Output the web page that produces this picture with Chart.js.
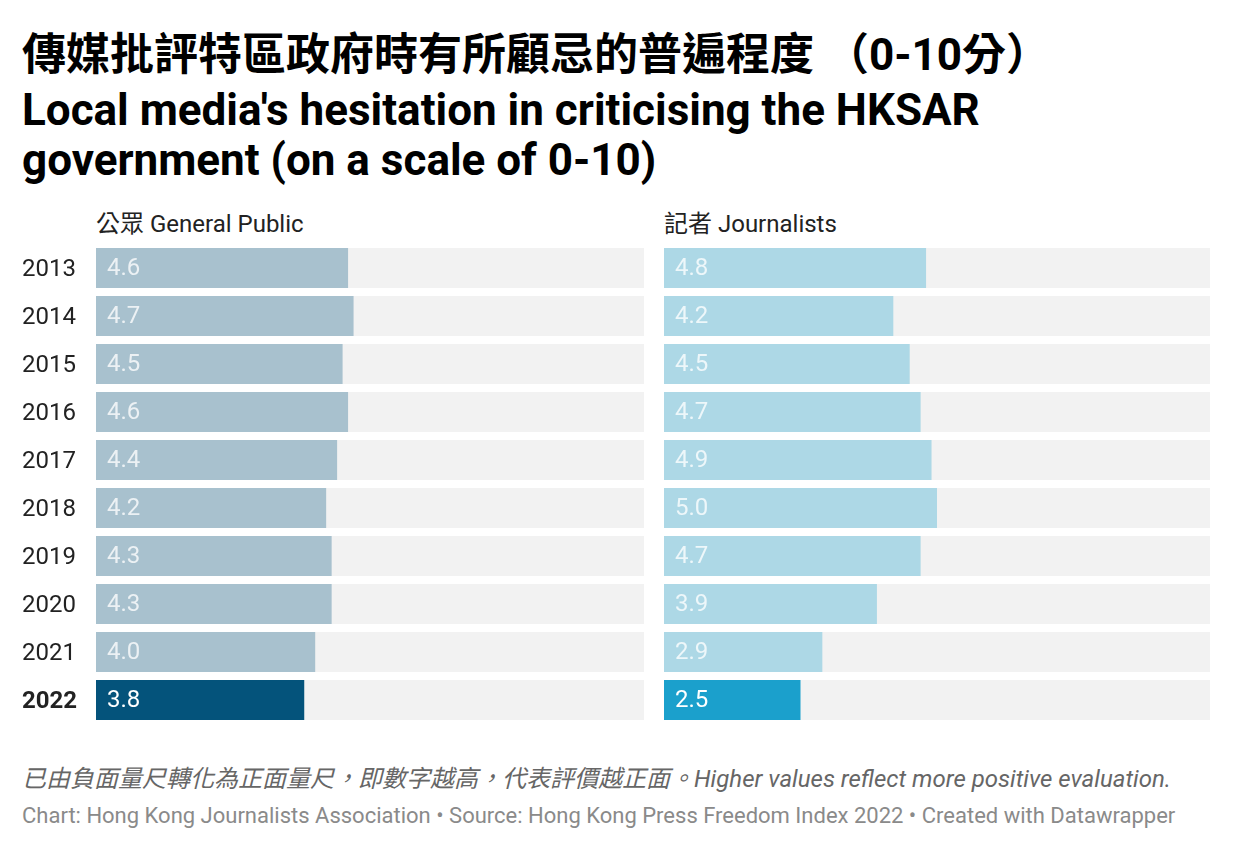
<!DOCTYPE html>
<html><head><meta charset="utf-8">
<script src="https://cdn.jsdelivr.net/npm/chart.js@4/dist/chart.umd.min.js"></script>
<style>
html,body{margin:0;padding:0;background:#fff;width:1240px;height:850px;overflow:hidden;font-family:Roboto,"Noto Sans CJK TC",sans-serif;}
.t{position:absolute;white-space:nowrap;}
#title1{left:22px;top:30px;font-size:44px;font-weight:700;color:#000;line-height:50px;}
#title2{left:22px;top:85px;font-size:44px;font-weight:700;color:#000;line-height:50px;}
#h1{left:96px;top:212px;font-size:24px;line-height:24px;color:#222;}
#h2{left:664px;top:212px;font-size:24px;line-height:24px;color:#222;}
#note{left:22px;top:767px;font-size:24px;line-height:24px;color:#666;font-style:italic;}
#src{left:22px;top:805px;font-size:22px;line-height:22px;color:#8a8a8a;}
canvas{position:absolute;}
#c1wrap{position:absolute;left:22px;top:244px;width:622px;height:480px;}
#c2wrap{position:absolute;left:664px;top:244px;width:546px;height:480px;}
</style></head>
<body>
<div class="t" id="title1">傳媒批評特區政府時有所顧忌的普遍程度 （0-10分）</div>
<div class="t" id="title2">Local media's hesitation in criticising the HKSAR<br>government (on a scale of 0-10)</div>
<div class="t" id="h1">公眾 General Public</div>
<div class="t" id="h2">記者 Journalists</div>
<div id="c1wrap"><canvas id="c1"></canvas></div>
<div id="c2wrap"><canvas id="c2"></canvas></div>
<div class="t" id="note">已由負面量尺轉化為正面量尺，即數字越高，代表評價越正面。Higher values reflect more positive evaluation.</div>
<div class="t" id="src">Chart: Hong Kong Journalists Association • Source: Hong Kong Press Freedom Index 2022 • Created with Datawrapper</div>
<script>
const years = ["2013","2014","2015","2016","2017","2018","2019","2020","2021","2022"];
const publicValues = [4.6,4.7,4.5,4.6,4.4,4.2,4.3,4.3,4.0,3.8];
const journalistValues = [4.8,4.2,4.5,4.7,4.9,5.0,4.7,3.9,2.9,2.5];
const scaleMax = 10;

const FONT = 'Roboto, "Noto Sans CJK TC", sans-serif';

const trackPlugin = {
  id:'track',
  beforeDatasetsDraw(chart){
    const ctx = chart.ctx, a = chart.chartArea;
    const meta = chart.getDatasetMeta(0);
    ctx.save();
    ctx.fillStyle = '#f2f2f2';
    meta.data.forEach(b=>{
      ctx.fillRect(a.left, b.y - b.height/2, a.right - a.left, b.height);
    });
    ctx.restore();
  }
};
const labelPlugin = {
  id:'vlabels',
  afterDatasetsDraw(chart){
    const ctx = chart.ctx;
    const meta = chart.getDatasetMeta(0);
    const data = chart.data.datasets[0].data;
    ctx.save();
    ctx.font = '24px ' + FONT;
    ctx.textBaseline = 'middle';
    ctx.textAlign = 'left';
    meta.data.forEach((b,i)=>{
      ctx.fillStyle = i === data.length-1 ? '#ffffff' : 'rgba(255,255,255,0.78)';
      ctx.fillText(data[i].toFixed(1), b.base + 11, b.y + 1);
    });
    ctx.restore();
  }
};

function make(id, values, light, dark, showY){
  const colors = values.map((v,i)=> i===values.length-1 ? dark : light);
  return new Chart(document.getElementById(id), {
    type:'bar',
    data:{labels:years, datasets:[{data:values, backgroundColor:colors, borderWidth:0, barPercentage:1, categoryPercentage:40/48}]},
    options:{
      indexAxis:'y',
      responsive:true, maintainAspectRatio:false, animation:false,
      layout:{padding:0},
      plugins:{legend:{display:false}, tooltip:{enabled:false}},
      scales:{
        x:{display:false, min:0, max:scaleMax},
        y:{display:true, grid:{display:false}, border:{display:false},
           afterFit(s){ s.width = showY ? 74 : 0; s.paddingTop = 0; s.paddingBottom = 0; },
           ticks:{display:showY, crossAlign:'far', padding:0, labelOffset:2, color:'#222',
             font:(c)=>({family:FONT, size:24, weight: c.index===years.length-1 ? 'bold':'normal'})}}
      }
    },
    plugins:[trackPlugin, labelPlugin]
  });
}
make('c1', publicValues, '#a8c1ce', '#04537b', true);
make('c2', journalistValues, '#add8e6', '#1ba0cc', false);
</script>
</body></html>
